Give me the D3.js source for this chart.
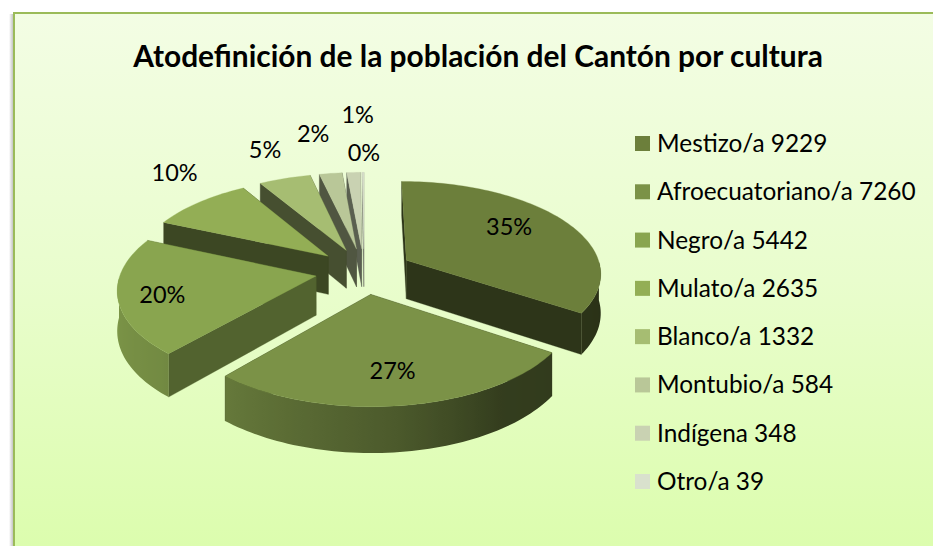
<!DOCTYPE html>
<html><head><meta charset="utf-8">
<style>html,body{margin:0;padding:0;background:#fff;overflow:hidden}svg{display:block}text{font-family:Lato,"Open Sans",sans-serif;fill:#000}</style>
<script src="https://d3js.org/d3.v7.min.js"></script></head><body>
<script>
const titleText = "Atodefinición de la población del Cantón por cultura";
const categories = ["Mestizo/a","Afroecuatoriano/a","Negro/a","Mulato/a","Blanco/a","Montubio/a","Indígena","Otro/a"];
const values = [9229,7260,5442,2635,1332,584,348,39];
const percentLabels = ["35%","27%","20%","10%","5%","2%","1%","0%"];
const colors = ["#6c7f3b","#7b9247","#89a54f","#93ae55","#a6bd72","#b9c798","#c9d2b2","#d9e1cd"];
const flatShade = [0.42,0.4,0.6,0.41,0.42,0.43,0.45,0.5];
const labelRho = [0.62,0.62,0.7,1.12,1.14,1.2,1.42,1.12];
const labelNudgeX = [3,3,-16,-10,-12,-13,7,1];
const labelNudgeY = [-8,11,4,-24,-20,-26,-30,-11];
const drawOrder = [7,6,5,4,3,0,2,1];

const W=933,H=546,cx=364,cy=271,A=195,B=91.5,persp=0.127,explode=0.25,depth=39;
const svg=d3.select("body").append("svg").attr("width",W).attr("height",H);
const defs=svg.append("defs");
const bg=defs.append("linearGradient").attr("id","bg").attr("x1",0).attr("y1",0).attr("x2",0).attr("y2",1);
bg.append("stop").attr("offset",0).attr("stop-color","#f3fde4");
bg.append("stop").attr("offset",0.5).attr("stop-color","#e9fdcd");
bg.append("stop").attr("offset",1).attr("stop-color","#dcfdae");
const sh=defs.append("linearGradient").attr("id","sh").attr("x1",0).attr("y1",0).attr("x2",1).attr("y2",0);
sh.append("stop").attr("offset",0).attr("stop-color","#fff");
sh.append("stop").attr("offset",1).attr("stop-color","#b5b5b5");
svg.append("rect").attr("x",9).attr("y",14).attr("width",5).attr("height",H-14).attr("fill","url(#sh)");
svg.append("rect").attr("x",14).attr("y",13).attr("width",W-14).attr("height",H-13).attr("fill","url(#bg)");
svg.append("rect").attr("x",13).attr("y",12).attr("width",W-13).attr("height",2).attr("fill","#9bbb59");
svg.append("rect").attr("x",13).attr("y",12).attr("width",2).attr("height",H-12).attr("fill","#9bbb59");

svg.append("text").attr("x",478).attr("y",67).attr("text-anchor","middle")
  .attr("font-size",29.9).attr("font-weight",700).text(titleText);

const rad=d=>d*Math.PI/180;
const pie=d3.pie().sort(null).value(d=>d)(values);
const project=(mid,a,r,z)=>{
  const X=explode*Math.sin(mid)+r*Math.sin(a), U=-explode*Math.cos(mid)-r*Math.cos(a);
  const s=1/(1-persp*U);
  return [cx+X*A*s, cy+U*B*s+z*depth*s];
};
const wallShade=d3.scaleLinear().domain([0,90,145,175,224,270,360].map(rad)).range([0.4,0.38,0.42,0.62,0.84,0.92,0.9]);
const shadeColor=(c,f)=>{const q=d3.rgb(c);return d3.rgb(q.r*f,q.g*f,q.b*f).formatHex();};
const line=d3.line();
const gPie=svg.append("g");
drawOrder.forEach(i=>{
  const p=pie[i],mid=(p.startAngle+p.endAngle)/2,col=colors[i],flat=shadeColor(col,flatShade[i]);
  const g=gPie.append("g");
  const n=Math.max(2,Math.ceil((p.endAngle-p.startAngle)/rad(1.5)));
  const angles=d3.range(n+1).map(k=>p.startAngle+(p.endAngle-p.startAngle)*k/n);
  [p.endAngle,p.startAngle].forEach(a=>{
    g.append("path").attr("d",line([project(mid,a,0,0),project(mid,a,1,0),project(mid,a,1,1),project(mid,a,0,1)])+"Z")
     .attr("fill",flat).attr("stroke",flat).attr("stroke-width",0.3);
  });
  const front=angles.filter(a=>a>=rad(90)&&a<=rad(270));
  if(front.length>1){
    const xs=front.map(a=>project(mid,a,1,0)[0]);
    const x0=d3.min(xs),x1=d3.max(xs);
    const id="wall"+i;
    const gr=defs.append("linearGradient").attr("id",id).attr("gradientUnits","userSpaceOnUse")
      .attr("x1",x0).attr("y1",0).attr("x2",x1).attr("y2",0);
    const off=d3.scaleLinear().domain([x0,x1]).range([0,1]);
    front.map((a,k)=>({o:off(xs[k]),c:shadeColor(col,wallShade(a))})).sort((u,v)=>u.o-v.o)
      .forEach(s=>gr.append("stop").attr("offset",s.o).attr("stop-color",s.c));
    const t=front.map(a=>project(mid,a,1,0));
    const b=front.map(a=>project(mid,a,1,1)).reverse();
    g.append("path").attr("d",line([...t,...b])+"Z").attr("fill",`url(#${id})`);
  }
  const topRim=angles.map(a=>project(mid,a,1,0));
  g.append("path").attr("d",line([project(mid,0,0,0),...topRim])+"Z").attr("fill",col).attr("stroke",col).attr("stroke-width",0.3);
});

const gLab=svg.append("g");
pie.forEach((p,i)=>{
  const mid=(p.startAngle+p.endAngle)/2;
  const [x,y]=project(mid,mid,labelRho[i],0);
  gLab.append("text").attr("x",x+labelNudgeX[i]).attr("y",y+8+labelNudgeY[i]).attr("text-anchor","middle")
    .attr("font-size",23.5).text(percentLabels[i]);
});

const legendY=d3.scalePoint().domain(categories).range([136,474]);
const gLeg=svg.append("g");
categories.forEach((c,i)=>{
  gLeg.append("rect").attr("x",635).attr("y",legendY(c)).attr("width",15).attr("height",15).attr("fill",colors[i]);
  gLeg.append("text").attr("x",657).attr("y",legendY(c)+16).attr("font-size",24.4).text(c+" "+values[i]);
});
</script></body></html>
